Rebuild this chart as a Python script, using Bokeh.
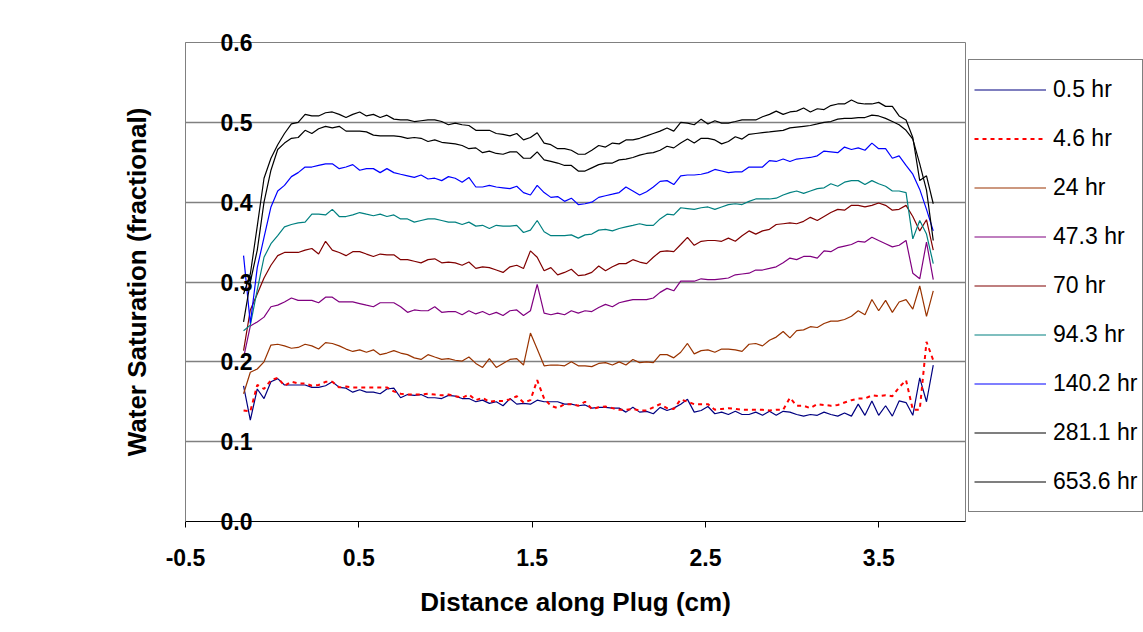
from bokeh.plotting import figure
from bokeh.models import (Range1d, FixedTicker, NumeralTickFormatter, Legend, LegendItem)
from bokeh.embed import file_html
from bokeh.resources import INLINE

# Distance along plug (cm)
distance = [-0.165, -0.126, -0.086, -0.047, -0.007, 0.032, 0.071, 0.111, 0.150, 0.190,
            0.229, 0.268, 0.308, 0.347, 0.387, 0.426, 0.465, 0.505, 0.544, 0.584,
            0.623, 0.662, 0.702, 0.741, 0.781, 0.820, 0.859, 0.899, 0.938, 0.978,
            1.017, 1.056, 1.096, 1.135, 1.175, 1.214, 1.253, 1.293, 1.332, 1.372,
            1.411, 1.450, 1.490, 1.529, 1.569, 1.608, 1.647, 1.687, 1.726, 1.766,
            1.805, 1.844, 1.884, 1.923, 1.963, 2.002, 2.041, 2.081, 2.120, 2.160,
            2.199, 2.238, 2.278, 2.317, 2.357, 2.396, 2.435, 2.475, 2.514, 2.554,
            2.593, 2.632, 2.672, 2.711, 2.751, 2.790, 2.829, 2.869, 2.908, 2.948,
            2.987, 3.026, 3.066, 3.105, 3.145, 3.184, 3.223, 3.263, 3.302, 3.342,
            3.381, 3.420, 3.460, 3.499, 3.539, 3.578, 3.617, 3.657, 3.696, 3.736,
            3.775, 3.814]

sw_0_5 = [0.170, 0.127, 0.166, 0.154, 0.175, 0.179, 0.171, 0.171, 0.171, 0.171,
          0.168, 0.168, 0.170, 0.175, 0.168, 0.167, 0.162, 0.165, 0.162, 0.162,
          0.160, 0.166, 0.167, 0.155, 0.159, 0.158, 0.159, 0.155, 0.155, 0.154,
          0.158, 0.157, 0.154, 0.154, 0.150, 0.152, 0.148, 0.150, 0.145, 0.154,
          0.147, 0.148, 0.147, 0.152, 0.150, 0.150, 0.150, 0.147, 0.147, 0.145,
          0.146, 0.142, 0.143, 0.143, 0.142, 0.142, 0.137, 0.143, 0.137, 0.138,
          0.135, 0.143, 0.139, 0.142, 0.147, 0.153, 0.137, 0.139, 0.144, 0.135,
          0.137, 0.134, 0.138, 0.134, 0.134, 0.137, 0.133, 0.138, 0.133, 0.138,
          0.137, 0.134, 0.132, 0.134, 0.133, 0.137, 0.134, 0.132, 0.136, 0.132,
          0.147, 0.133, 0.151, 0.133, 0.145, 0.132, 0.151, 0.149, 0.133, 0.180,
          0.150, 0.196]

sw_4_6 = [0.139, 0.138, 0.171, 0.166, 0.177, 0.180, 0.170, 0.175, 0.173, 0.173,
          0.170, 0.171, 0.175, 0.175, 0.168, 0.169, 0.168, 0.168, 0.168, 0.168,
          0.168, 0.168, 0.163, 0.160, 0.159, 0.159, 0.159, 0.160, 0.159, 0.158,
          0.159, 0.157, 0.155, 0.159, 0.152, 0.155, 0.150, 0.151, 0.151, 0.153,
          0.157, 0.149, 0.152, 0.177, 0.154, 0.145, 0.142, 0.147, 0.147, 0.145,
          0.150, 0.141, 0.143, 0.144, 0.142, 0.140, 0.140, 0.141, 0.139, 0.139,
          0.143, 0.147, 0.142, 0.141, 0.153, 0.150, 0.147, 0.147, 0.147, 0.140,
          0.141, 0.142, 0.141, 0.140, 0.140, 0.140, 0.140, 0.139, 0.140, 0.140,
          0.155, 0.145, 0.145, 0.142, 0.147, 0.146, 0.145, 0.146, 0.149, 0.152,
          0.154, 0.154, 0.158, 0.157, 0.158, 0.157, 0.168, 0.177, 0.140, 0.140,
          0.225, 0.202]

sw_24 = [0.160, 0.187, 0.191, 0.200, 0.221, 0.222, 0.220, 0.217, 0.218, 0.222,
         0.220, 0.216, 0.224, 0.223, 0.220, 0.216, 0.213, 0.215, 0.212, 0.215,
         0.209, 0.211, 0.214, 0.211, 0.209, 0.205, 0.203, 0.209, 0.206, 0.203,
         0.204, 0.202, 0.201, 0.206, 0.198, 0.193, 0.204, 0.193, 0.198, 0.203,
         0.204, 0.196, 0.236, 0.216, 0.195, 0.196, 0.196, 0.195, 0.200, 0.195,
         0.195, 0.194, 0.198, 0.199, 0.196, 0.200, 0.196, 0.203, 0.199, 0.200,
         0.199, 0.209, 0.209, 0.205, 0.212, 0.223, 0.210, 0.214, 0.215, 0.212,
         0.216, 0.216, 0.215, 0.213, 0.222, 0.223, 0.220, 0.227, 0.231, 0.238,
         0.230, 0.239, 0.240, 0.244, 0.243, 0.248, 0.251, 0.251, 0.253, 0.257,
         0.264, 0.259, 0.278, 0.264, 0.277, 0.262, 0.275, 0.278, 0.266, 0.295,
         0.257, 0.289]

sw_47_3 = [0.205, 0.245, 0.250, 0.256, 0.269, 0.271, 0.275, 0.280, 0.277, 0.277,
           0.277, 0.274, 0.281, 0.281, 0.275, 0.275, 0.275, 0.273, 0.271, 0.269,
           0.274, 0.274, 0.274, 0.269, 0.262, 0.265, 0.264, 0.264, 0.269, 0.262,
           0.263, 0.263, 0.259, 0.264, 0.260, 0.263, 0.259, 0.262, 0.258, 0.264,
           0.265, 0.258, 0.264, 0.297, 0.261, 0.259, 0.261, 0.259, 0.264, 0.261,
           0.264, 0.263, 0.268, 0.272, 0.269, 0.274, 0.276, 0.278, 0.278, 0.278,
           0.280, 0.287, 0.292, 0.289, 0.301, 0.301, 0.301, 0.304, 0.303, 0.303,
           0.304, 0.305, 0.309, 0.310, 0.311, 0.315, 0.315, 0.317, 0.319, 0.324,
           0.330, 0.328, 0.332, 0.332, 0.330, 0.339, 0.338, 0.343, 0.345, 0.347,
           0.351, 0.350, 0.356, 0.352, 0.348, 0.344, 0.346, 0.352, 0.311, 0.304,
           0.350, 0.303]

sw_70 = [0.214, 0.265, 0.285, 0.305, 0.321, 0.333, 0.337, 0.337, 0.337, 0.340,
         0.342, 0.335, 0.351, 0.340, 0.337, 0.333, 0.338, 0.338, 0.335, 0.332,
         0.335, 0.334, 0.334, 0.328, 0.328, 0.326, 0.324, 0.328, 0.329, 0.324,
         0.325, 0.324, 0.321, 0.325, 0.317, 0.319, 0.318, 0.315, 0.312, 0.319,
         0.321, 0.317, 0.339, 0.331, 0.314, 0.318, 0.309, 0.312, 0.316, 0.308,
         0.309, 0.312, 0.320, 0.314, 0.319, 0.323, 0.323, 0.328, 0.325, 0.323,
         0.331, 0.338, 0.339, 0.338, 0.347, 0.356, 0.346, 0.351, 0.352, 0.352,
         0.351, 0.355, 0.351, 0.358, 0.364, 0.360, 0.364, 0.366, 0.372, 0.373,
         0.374, 0.373, 0.376, 0.381, 0.377, 0.382, 0.387, 0.391, 0.390, 0.396,
         0.396, 0.394, 0.396, 0.399, 0.396, 0.390, 0.391, 0.396, 0.382, 0.364,
         0.378, 0.340]

sw_94_3 = [0.239, 0.246, 0.290, 0.331, 0.348, 0.358, 0.369, 0.372, 0.374, 0.375,
           0.385, 0.385, 0.384, 0.391, 0.382, 0.382, 0.384, 0.387, 0.385, 0.383,
           0.385, 0.382, 0.384, 0.379, 0.379, 0.375, 0.377, 0.379, 0.379, 0.377,
           0.375, 0.375, 0.372, 0.375, 0.370, 0.371, 0.367, 0.371, 0.370, 0.370,
           0.371, 0.362, 0.365, 0.377, 0.363, 0.358, 0.358, 0.358, 0.359, 0.355,
           0.359, 0.360, 0.365, 0.366, 0.364, 0.367, 0.369, 0.371, 0.373, 0.371,
           0.371, 0.379, 0.385, 0.384, 0.393, 0.392, 0.391, 0.393, 0.394, 0.391,
           0.394, 0.397, 0.398, 0.397, 0.401, 0.404, 0.404, 0.404, 0.405, 0.409,
           0.412, 0.414, 0.411, 0.414, 0.417, 0.418, 0.423, 0.420, 0.425, 0.427,
           0.427, 0.422, 0.427, 0.423, 0.420, 0.414, 0.414, 0.412, 0.354, 0.377,
           0.360, 0.323]

sw_140_2 = [0.333, 0.248, 0.318, 0.356, 0.394, 0.414, 0.421, 0.432, 0.437, 0.444,
            0.444, 0.446, 0.448, 0.448, 0.442, 0.444, 0.447, 0.440, 0.442, 0.442,
            0.437, 0.442, 0.437, 0.435, 0.433, 0.431, 0.434, 0.429, 0.430, 0.427,
            0.432, 0.430, 0.425, 0.431, 0.419, 0.419, 0.421, 0.419, 0.418, 0.417,
            0.420, 0.412, 0.409, 0.421, 0.412, 0.406, 0.407, 0.401, 0.405, 0.397,
            0.398, 0.400, 0.406, 0.408, 0.410, 0.412, 0.419, 0.414, 0.409, 0.413,
            0.419, 0.426, 0.427, 0.422, 0.433, 0.434, 0.434, 0.435, 0.437, 0.441,
            0.439, 0.437, 0.438, 0.438, 0.444, 0.444, 0.444, 0.452, 0.451, 0.454,
            0.451, 0.454, 0.455, 0.456, 0.458, 0.464, 0.463, 0.462, 0.469, 0.466,
            0.468, 0.465, 0.474, 0.467, 0.467, 0.455, 0.458, 0.446, 0.435, 0.416,
            0.391, 0.364]

sw_281_1 = [0.250, 0.300, 0.340, 0.400, 0.440, 0.466, 0.474, 0.480, 0.481, 0.490,
            0.486, 0.492, 0.495, 0.493, 0.495, 0.489, 0.489, 0.489, 0.488, 0.484,
            0.483, 0.483, 0.483, 0.482, 0.480, 0.481, 0.480, 0.476, 0.478, 0.475,
            0.474, 0.473, 0.471, 0.467, 0.468, 0.462, 0.464, 0.461, 0.460, 0.463,
            0.463, 0.455, 0.455, 0.463, 0.453, 0.451, 0.449, 0.446, 0.446, 0.439,
            0.439, 0.443, 0.447, 0.449, 0.449, 0.453, 0.454, 0.456, 0.459, 0.461,
            0.462, 0.465, 0.470, 0.468, 0.474, 0.479, 0.474, 0.480, 0.480, 0.478,
            0.473, 0.476, 0.482, 0.479, 0.485, 0.486, 0.487, 0.488, 0.489, 0.490,
            0.493, 0.494, 0.495, 0.496, 0.498, 0.500, 0.501, 0.504, 0.505, 0.505,
            0.506, 0.506, 0.509, 0.508, 0.505, 0.501, 0.497, 0.490, 0.479, 0.448,
            0.415, 0.352]

sw_653_6 = [0.285, 0.310, 0.370, 0.430, 0.455, 0.472, 0.486, 0.498, 0.500, 0.510,
            0.508, 0.508, 0.512, 0.513, 0.510, 0.506, 0.510, 0.513, 0.508, 0.510,
            0.506, 0.509, 0.504, 0.503, 0.503, 0.501, 0.502, 0.503, 0.503, 0.501,
            0.497, 0.499, 0.497, 0.496, 0.490, 0.490, 0.490, 0.486, 0.485, 0.483,
            0.486, 0.478, 0.481, 0.487, 0.474, 0.472, 0.467, 0.467, 0.465, 0.460,
            0.460, 0.465, 0.471, 0.469, 0.474, 0.473, 0.478, 0.478, 0.480, 0.483,
            0.486, 0.489, 0.493, 0.489, 0.500, 0.499, 0.497, 0.504, 0.498, 0.502,
            0.499, 0.499, 0.501, 0.503, 0.503, 0.503, 0.507, 0.510, 0.514, 0.510,
            0.513, 0.514, 0.518, 0.513, 0.517, 0.516, 0.521, 0.523, 0.523, 0.528,
            0.524, 0.523, 0.523, 0.525, 0.520, 0.520, 0.508, 0.503, 0.481, 0.427,
            0.433, 0.398]

series_labels = ["0.5 hr", "4.6 hr", "24 hr", "47.3 hr", "70 hr", "94.3 hr",
                 "140.2 hr", "281.1 hr", "653.6 hr"]
series_values = [sw_0_5, sw_4_6, sw_24, sw_47_3, sw_70, sw_94_3, sw_140_2,
                 sw_281_1, sw_653_6]
series_colors = ["#000080", "#FF0000", "#993300", "#800080", "#800000", "#008080",
                 "#0000FF", "#000000", "#000000"]
series_dash = ["solid", "4 4", "solid", "solid", "solid", "solid", "solid",
               "solid", "solid"]
series_width = [1.2, 2.0, 1.2, 1.2, 1.2, 1.2, 1.2, 1.2, 1.2]

x_ticks = [-0.5, 0.5, 1.5, 2.5, 3.5]
y_ticks = [0.0, 0.1, 0.2, 0.3, 0.4, 0.5, 0.6]
grid_ticks = [0.1, 0.2, 0.3, 0.4, 0.5]

FONT = "Liberation Sans"

p = figure(frame_width=780, frame_height=479,
           x_range=Range1d(-0.5, 4.0), y_range=Range1d(0.0, 0.6),
           output_backend="svg", toolbar_location=None,
           min_border_left=185, min_border_right=178, min_border_top=42,
           min_border_bottom=111)
p.background_fill_color = "white"
p.border_fill_color = "white"
p.outline_line_color = "#808080"
p.outline_line_width = 1

p.xgrid.visible = False
p.ygrid.ticker = FixedTicker(ticks=grid_ticks)
p.ygrid.grid_line_color = "#808080"
p.ygrid.grid_line_width = 1.5

xa = p.xaxis[0]
xa.ticker = FixedTicker(ticks=x_ticks)
xa.formatter = NumeralTickFormatter(format="0.0")
xa.axis_line_color = "black"
xa.axis_line_width = 1
xa.major_tick_line_color = "black"
xa.major_tick_out = 6
xa.major_tick_in = 0
xa.minor_tick_line_color = None
xa.major_label_text_font = FONT
xa.major_label_text_font_style = "bold"
xa.major_label_text_font_size = "23px"
xa.major_label_text_color = "black"
xa.major_label_standoff = 21
xa.axis_label = "Distance along Plug (cm)"
xa.axis_label_text_font = FONT
xa.axis_label_text_font_style = "bold"
xa.axis_label_text_font_size = "26px"
xa.axis_label_text_color = "black"
xa.axis_label_standoff = 18

ya = p.yaxis[0]
ya.ticker = FixedTicker(ticks=y_ticks)
ya.formatter = NumeralTickFormatter(format="0.0")
ya.axis_line_color = "#808080"
ya.major_tick_out = 0
ya.major_tick_in = 0
ya.minor_tick_line_color = None
ya.major_label_text_font = FONT
ya.major_label_text_font_style = "bold"
ya.major_label_text_font_size = "23px"
ya.major_label_text_color = "black"
ya.major_label_standoff = -67
ya.axis_label = "Water Saturation (fractional)"
ya.axis_label_text_font = FONT
ya.axis_label_text_font_style = "bold"
ya.axis_label_text_font_size = "26px"
ya.axis_label_text_color = "black"
ya.axis_label_standoff = 66

items = []
for lab, vals, col, dash, w in zip(series_labels, series_values, series_colors,
                                   series_dash, series_width):
    r = p.line(distance, vals, line_color=col, line_width=w, line_dash=dash)
    items.append(LegendItem(label=lab, renderers=[r]))

legend = Legend(items=items, location=(3, 9))
legend.border_line_color = "black"
legend.border_line_width = 1
legend.background_fill_color = "white"
legend.background_fill_alpha = 1
legend.padding = 5
legend.margin = 0
legend.spacing = 0
legend.glyph_width = 72
legend.glyph_height = 49
legend.label_height = 49
legend.label_standoff = 7
legend.label_text_font = FONT
legend.label_text_font_size = "23px"
legend.label_text_color = "black"
legend.label_text_baseline = "middle"
p.add_layout(legend, "right")

open("out.html", "w").write(file_html(p, INLINE))
